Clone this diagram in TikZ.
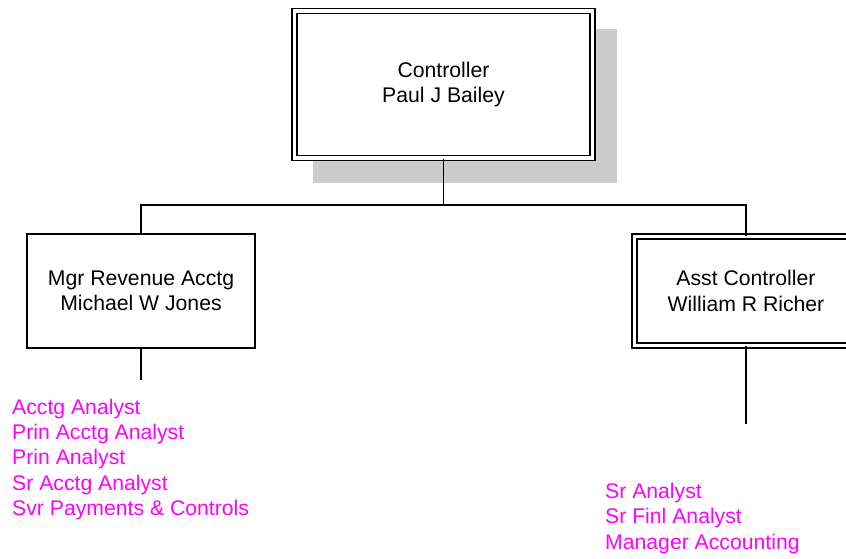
\documentclass[tikz,border=0pt]{standalone}
\usepackage{fontspec}
\setmainfont{Liberation Sans}
\definecolor{shadowgray}{RGB}{204,204,204}
\definecolor{magtext}{RGB}{255,0,255}
\begin{document}
\begin{tikzpicture}[x=1pt,y=-1pt,
  txt/.style={font=\fontsize{21.2pt}{25.3pt}\selectfont, align=center},
  box/.style={txt, draw, line width=1.4pt, fill=white, inner sep=0pt},
  dbox/.style={box, double, double distance=3.6pt},
  conn/.style={line width=1.5pt},
  listtxt/.style={font=\fontsize{21.2pt}{25.3pt}\selectfont, align=left, text=magtext, inner sep=0pt, anchor=west}]
\useasboundingbox (0,0) rectangle (846,559);
\clip (0,0) rectangle (846,559);
% shadow
\fill[shadowgray] (313,29) rectangle (617,183);
% boxes
\node[dbox, minimum width=298pt, minimum height=147pt] (top) at (443.5,84.5) {Controller\\Paul J Bailey};
\node[box, minimum width=228pt, minimum height=114pt] (left) at (141,291) {Mgr Revenue Acctg\\Michael W Jones};
\node[dbox, minimum width=223pt, minimum height=109pt] (right) at (746,291) {Asst Controller\\William R Richer};
% connectors
\coordinate (bus) at (443.5,205);
\coordinate (lend) at (141,380);
\coordinate (rend) at (746,424);
\draw[conn] (top.south) -- (bus);
\draw[conn] (left.north) |- (bus) -| (right.north);
\draw[conn] (left.south) -- (lend);
\draw[conn] (right.south) -- (rend);
% lists
\node[listtxt] (llist) at (12,459.5) {Acctg Analyst\\Prin Acctg Analyst\\Prin Analyst\\Sr Acctg Analyst\\Svr Payments \& Controls};
\node[listtxt] (rlist) at (605,518.5) {Sr Analyst\\Sr Finl Analyst\\Manager Accounting};
\end{tikzpicture}
\end{document}
